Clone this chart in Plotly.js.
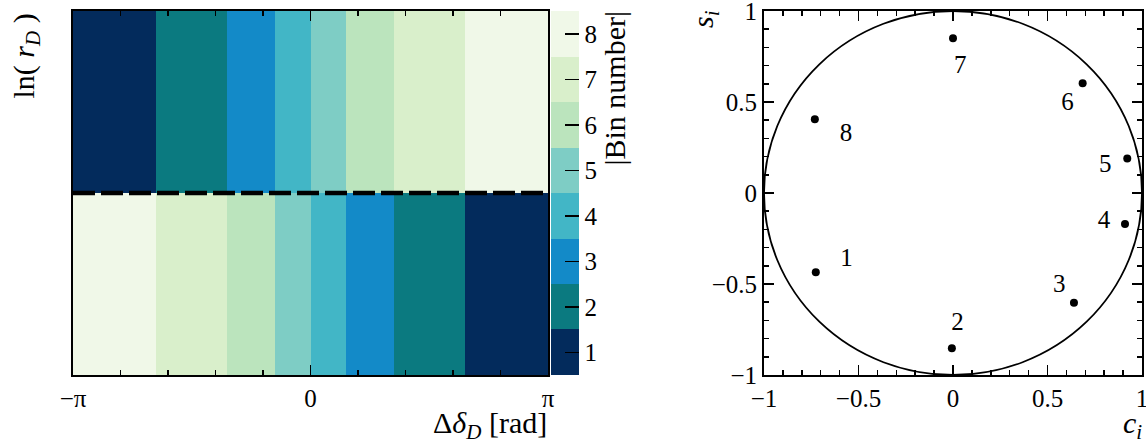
<!DOCTYPE html>
<html>
<head>
<meta charset="utf-8">
<script src="https://cdn.plot.ly/plotly-3.0.1.min.js"></script>
<style>html,body{margin:0;padding:0;background:#fff;}#chart{width:1146px;height:444px;}</style>
</head>
<body>
<div id="chart"></div>
<script>
// ---- Left panel: binning in (Δδ_D, ln r_D) ----
var binEdgesPi = [-1, -0.65, -0.35, -0.15, 0, 0.15, 0.35, 0.65, 1];   // Δδ_D bin edges in units of π
var lnrEdges = [-1, 0, 1];                                            // ln(r_D) rows (split at 0)
var binsLower = [8, 7, 6, 5, 4, 3, 2, 1];                              // |bin| for ln r_D < 0
var binsUpper = [1, 2, 3, 4, 5, 6, 7, 8];                              // |bin| for ln r_D > 0
var binColors = ['#032b5c', '#0b7a80', '#138ac8', '#42b6c6', '#7ecdc5', '#bbe4bd', '#d9efcb', '#f0f8e8'];
var binTickVals = [1, 2, 3, 4, 5, 6, 7, 8];
var splitLine = 0;                                                     // dashed boundary in ln r_D
var phaseTickText = ['\u2212\u03c0', '0', '\u03c0'];

// ---- Right panel: (c_i, s_i) per bin ----
var binLabels = ['1', '2', '3', '4', '5', '6', '7', '8'];
var ci = [-0.726, -0.006, 0.640, 0.910, 0.922, 0.686, 0.000, -0.731];
var si = [-0.436, -0.853, -0.603, -0.170, 0.189, 0.603, 0.850, 0.405];
var labelC = [-0.564, 0.024, 0.562, 0.799, 0.806, 0.606, 0.038, -0.566];
var labelS = [-0.368, -0.716, -0.509, -0.158, 0.152, 0.493, 0.694, 0.321];
var csTicks = [-1, -0.5, 0, 0.5, 1];

var PI = Math.PI;
var xEdges = binEdgesPi.map(function (v) { return v * PI; });

var cscale = [];
var nb = binColors.length;
binColors.forEach(function (c, k) { cscale.push([k / nb, c]); cscale.push([(k + 1) / nb, c]); });

var W = 1146, H = 444;
function px(x) { return x / W; }
function py(y) { return (H - y) / H; }

var SERIF = 'Liberation Serif';
function tf() { return {family: SERIF, size: 25, color: '#000'}; }
function ttl() { return {family: SERIF, size: 30, color: '#000'}; }
function minusText(v) { return String(v).replace('-', '\u2212'); }

var traces = [
  {
    type: 'heatmap', x: xEdges, y: lnrEdges, z: [binsLower, binsUpper],
    colorscale: cscale, zmin: 0.5, zmax: 8.5, zsmooth: false, hoverinfo: 'skip',
    xaxis: 'x', yaxis: 'y',
    colorbar: {
      x: px(551), xanchor: 'left', xpad: 0,
      y: py(375), yanchor: 'bottom', ypad: 0, len: 364 / H, lenmode: 'fraction',
      thickness: 28, thicknessmode: 'pixels', outlinewidth: 0,
      tickmode: 'array', tickvals: binTickVals, ticktext: binTickVals.map(String),
      ticks: 'inside', ticklen: 14, tickwidth: 1.5, tickcolor: '#000',
      tickfont: tf()
    }
  },
  {
    type: 'scatter', mode: 'lines', x: [xEdges[0], xEdges[xEdges.length - 1]], y: [splitLine, splitLine],
    line: {color: '#000', width: 4.5, dash: '22px,6px'}, hoverinfo: 'skip', showlegend: false,
    xaxis: 'x', yaxis: 'y'
  },
  {
    type: 'scatter', mode: 'markers', x: ci, y: si,
    marker: {color: '#000', size: 8}, hoverinfo: 'skip', showlegend: false,
    xaxis: 'x2', yaxis: 'y2'
  },
  {
    type: 'scatter', mode: 'text', x: labelC, y: labelS, text: binLabels,
    textposition: 'middle center', textfont: tf(),
    hoverinfo: 'skip', showlegend: false, xaxis: 'x2', yaxis: 'y2'
  }
];

function axisCommon() {
  return {
    showline: true, linecolor: '#000', linewidth: 2, mirror: 'ticks',
    ticks: 'inside', tickcolor: '#000', tickwidth: 1.5, ticklen: 10,
    showgrid: false, zeroline: false, tickfont: tf(), fixedrange: true,
    ticklabeloverflow: 'allow'
  };
}

var eps = 1e-6;
var layout = {
  width: W, height: H,
  margin: {l: 0, r: 0, t: 0, b: 0, pad: 0},
  paper_bgcolor: '#fff', plot_bgcolor: '#fff',
  font: {family: SERIF, size: 25, color: '#000'},
  showlegend: false,
  xaxis: Object.assign(axisCommon(), {
    domain: [px(73), px(548)], anchor: 'y', range: [-PI - eps, PI + eps],
    tickmode: 'array', tickvals: [-PI, 0, PI], ticktext: phaseTickText,
    minor: {tickmode: 'linear', tick0: -PI, dtick: 0.2 * PI, ticks: 'inside', ticklen: 5, tickwidth: 1.5, tickcolor: '#000'}
  }),
  yaxis: Object.assign(axisCommon(), {
    domain: [py(375), py(11)], anchor: 'x', range: [-1, 1],
    ticks: '', showticklabels: false
  }),
  xaxis2: Object.assign(axisCommon(), {
    domain: [px(764), px(1142)], anchor: 'y2', range: [-1 - eps, 1 + eps],
    tickmode: 'array', tickvals: csTicks, ticktext: csTicks.map(minusText),
    minor: {tickmode: 'linear', tick0: -1, dtick: 0.1, ticks: 'inside', ticklen: 5, tickwidth: 1.5, tickcolor: '#000'}
  }),
  yaxis2: Object.assign(axisCommon(), {
    domain: [py(375), py(11)], anchor: 'x2', range: [-1 - eps, 1 + eps],
    tickmode: 'array', tickvals: csTicks, ticktext: csTicks.map(minusText),
    minor: {tickmode: 'linear', tick0: -1, dtick: 0.1, ticks: 'inside', ticklen: 5, tickwidth: 1.5, tickcolor: '#000'}
  }),
  shapes: [
    {type: 'circle', xref: 'x2', yref: 'y2', x0: -1, y0: -1, x1: 1, y1: 1,
     line: {color: '#000', width: 1.8}, fillcolor: 'rgba(0,0,0,0)', layer: 'above'}
  ],
  annotations: [
    {text: 'ln( <i>r</i><sub><i>D</i></sub> )', xref: 'paper', yref: 'paper',
     x: px(26), y: py(12), xanchor: 'center', yanchor: 'top', textangle: -90,
     showarrow: false, font: ttl()},
    {text: '|Bin number|', xref: 'paper', yref: 'paper',
     x: px(614), y: py(9), xanchor: 'center', yanchor: 'top', textangle: -90,
     showarrow: false, font: ttl()},
    {text: '\u0394<i>\u03b4</i><sub><i>D</i></sub> [rad]', xref: 'paper', yref: 'paper',
     x: px(549), y: py(425), xanchor: 'right', yanchor: 'middle',
     showarrow: false, font: ttl()},
    {text: '<i>s</i><sub><i>i</i></sub>', xref: 'paper', yref: 'paper',
     x: px(705), y: py(8), xanchor: 'center', yanchor: 'top', textangle: -90,
     showarrow: false, font: ttl()},
    {text: '<i>c</i><sub><i>i</i></sub>', xref: 'paper', yref: 'paper',
     x: px(1144), y: py(425), xanchor: 'right', yanchor: 'middle',
     showarrow: false, font: ttl()}
  ]
};

Plotly.newPlot('chart', traces, layout, {staticPlot: true, displayModeBar: false});
</script>
</body>
</html>
